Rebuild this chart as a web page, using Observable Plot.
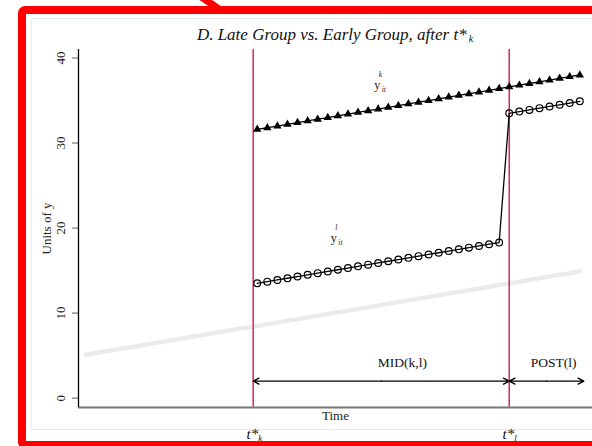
<!DOCTYPE html>
<html>
<head>
<meta charset="utf-8">
<script src="https://cdn.jsdelivr.net/npm/d3@7"></script>
<script src="https://cdn.jsdelivr.net/npm/@observablehq/plot@0.6"></script>
<style>
  html, body { margin: 0; padding: 0; background: #fff; }
  #wrap { position: relative; width: 592px; height: 446px; overflow: hidden; background: #fff; }
  #chart { position: absolute; left: 0; top: 0; }
  #chart svg { display: block; }
  .graph-region { position: absolute; left: 31px; top: 18px; width: 600px; height: 412px;
    border: 1px solid #e3ebed; box-sizing: border-box; }
  .title { position: absolute; left: 78px; width: 514px; top: 25px; text-align: center;
    font-family: "Liberation Serif", "Times New Roman", serif; font-style: italic;
    font-size: 17px; line-height: 20px; color: #111; white-space: nowrap; }
  .title sub { font-size: 10px; vertical-align: -2px; }
  .frame { position: absolute; left: 18px; top: 6px; width: 640px; height: 443px;
    border: 8px solid #fe0000; border-radius: 7px; box-sizing: border-box; }
  .pointer { position: absolute; left: 187px; top: -4px; width: 36px; height: 7px;
    background: #fe0000; transform: rotate(34deg); }
</style>
</head>
<body>
<div id="wrap">
  <div class="graph-region"></div>
  <div id="chart"></div>
  <div class="title">D. Late Group vs. Early Group, after t*<sub>&#8201;k</sub></div>
  <div class="frame"></div>
  <div class="pointer"></div>
</div>
<script>
// Time periods after the early group's treatment date t*_k
const periods = [18, 19, 20, 21, 22, 23, 24, 25, 26, 27, 28, 29, 30, 31, 32, 33, 34,
  35, 36, 37, 38, 39, 40, 41, 42, 43, 44, 45, 46, 47, 48, 49, 50];

// Early-treated group outcome y^k_it
const earlyValues = [31.6, 31.8, 32.0, 32.2, 32.4, 32.6, 32.8, 33.0, 33.2, 33.4, 33.6,
  33.8, 34.0, 34.2, 34.4, 34.6, 34.8, 35.0, 35.2, 35.4, 35.6, 35.8, 36.0, 36.2, 36.4,
  36.6, 36.8, 37.0, 37.2, 37.4, 37.6, 37.8, 38.0];

// Late-treated group outcome y^l_it (jumps at t*_l)
const lateValues = [13.5, 13.7, 13.9, 14.1, 14.3, 14.5, 14.7, 14.9, 15.1, 15.3, 15.5,
  15.7, 15.9, 16.1, 16.3, 16.5, 16.7, 16.9, 17.1, 17.3, 17.5, 17.7, 17.9, 18.1, 18.3,
  33.5, 33.7, 33.9, 34.1, 34.3, 34.5, 34.7, 34.9];

// Underlying common trend (light grey)
const trendPeriods = [1, 50];
const trendValues = [5.1, 14.9];

// Treatment dates
const treatDates = [17.6, 43];
const treatSubs = ["k", "l"];

// Window arrows and their labels
const spanStarts = [17.6, 43];
const spanEnds = [43, 50.4];
const spanLevel = 2;
const spanLabels = ["MID(k,l)", "POST(l)"];
const spanLabelX = [32.4, 47.4];
const spanLabelY = 4.2;

// Series labels
const seriesSup = ["k", "l"];
const seriesLabelX = [29.9, 25.6];
const seriesLabelY = [36.8, 18.8];

const yTicks = [0, 10, 20, 30, 40];
const xDomain = [0.27, 51.26];
const yDomain = [-1.1, 41];

const early = periods.map((t, i) => ({t, y: earlyValues[i]}));
const late = periods.map((t, i) => ({t, y: lateValues[i]}));
const trend = trendPeriods.map((t, i) => ({t, y: trendValues[i]}));
// each double-headed arrow is drawn as two heads pointing out from its midpoint
const halfArrows = spanStarts.flatMap((s, i) => {
  const mid = (s + spanEnds[i]) / 2;
  return [{x1: mid, x2: s, y: spanLevel}, {x1: mid, x2: spanEnds[i], y: spanLevel}];
});
const spanText = spanLabels.map((label, i) => ({x: spanLabelX[i], y: spanLabelY, label}));
const seriesText = seriesSup.map((s, i) => ({x: seriesLabelX[i], y: seriesLabelY[i], s}));
const dates = treatDates.map((t, i) => ({t, sub: treatSubs[i]}));

const serif = "\"Liberation Serif\", \"Times New Roman\", serif";
const crimson = "#d6295a";

const chart = Plot.plot({
  width: 592,
  height: 446,
  marginLeft: 78,
  marginRight: 0,
  marginTop: 49,
  marginBottom: 39,
  style: {fontFamily: serif, background: "transparent", color: "#111"},
  x: {domain: xDomain, axis: null},
  y: {domain: yDomain, axis: null},
  marks: [
    // y-axis ticks (labels drawn below, rotated)
    Plot.axisY(yTicks, {tickSize: 6, tickFormat: () => "", stroke: "#777", strokeWidth: 1.2, label: null}),
    Plot.text(yTicks, {y: d => d, text: d => String(d), frameAnchor: "left", dx: -18,
      rotate: -90, textAnchor: "middle", lineAnchor: "middle", fontSize: 13, fill: "#222"}),
    Plot.text(["Units of y"], {frameAnchor: "left", dx: -32, rotate: -90,
      textAnchor: "middle", lineAnchor: "middle", fontSize: 13, fill: "#222"}),
    Plot.text(["Time"], {frameAnchor: "bottom", dy: 8, textAnchor: "middle",
      lineAnchor: "middle", fontSize: 13, fill: "#222"}),

    // common trend
    Plot.line(trend, {x: "t", y: "y", stroke: "#ebebeb", strokeWidth: 4.5}),

    // treatment dates
    Plot.ruleX(dates, {x: "t", stroke: crimson, strokeWidth: 1.5}),
    Plot.text(dates, {x: "t", text: () => "t*", frameAnchor: "bottom", dx: 5, dy: 26.5,
      textAnchor: "end", lineAnchor: "middle", fontSize: 15, fontStyle: "italic", fill: "#111"}),
    Plot.text(dates, {x: "t", text: "sub", frameAnchor: "bottom", dx: 5, dy: 30.5,
      textAnchor: "start", lineAnchor: "middle", fontSize: 9, fontStyle: "italic", fill: "#111"}),

    // axis lines
    Plot.ruleY([yDomain[0]], {stroke: "#777", strokeWidth: 2}),
    Plot.ruleX([xDomain[0]], {stroke: "#000", strokeWidth: 1.3}),

    // window arrows
    Plot.arrow(halfArrows, {x1: "x1", x2: "x2", y1: "y", y2: "y", stroke: "#000", strokeWidth: 1.3,
      headLength: 7.5, headAngle: 56, insetStart: 0, insetEnd: 0}),
    Plot.text(spanText, {x: "x", y: "y", text: "label", fontSize: 13.5, fill: "#111"}),

    // early group: filled triangles
    Plot.line(early, {x: "t", y: "y", stroke: "#000", strokeWidth: 1.3}),
    Plot.dot(early, {x: "t", y: "y", symbol: "triangle", r: 3.1, fill: "#000", stroke: "none"}),

    // late group: hollow circles
    Plot.line(late, {x: "t", y: "y", stroke: "#000", strokeWidth: 1.3}),
    Plot.dot(late, {x: "t", y: "y", symbol: "circle", r: 3.4, fill: "none", stroke: "#000", strokeWidth: 1.2}),

    // series labels y^k_it and y^l_it
    Plot.text(seriesText, {x: "x", y: "y", text: () => "y", fontSize: 12, fill: "#222"}),
    Plot.text(seriesText, {x: "x", y: "y", text: "s", dx: 1.5, dy: -10.5, textAnchor: "start",
      fontSize: 7.5, fontStyle: "italic", fill: "#222"}),
    Plot.text(seriesText, {x: "x", y: "y", text: () => "it", dx: 4.5, dy: 4.5, textAnchor: "start",
      fontSize: 7.5, fontStyle: "italic", fill: "#222"})
  ]
});

document.getElementById("chart").appendChild(chart);
</script>
</body>
</html>
